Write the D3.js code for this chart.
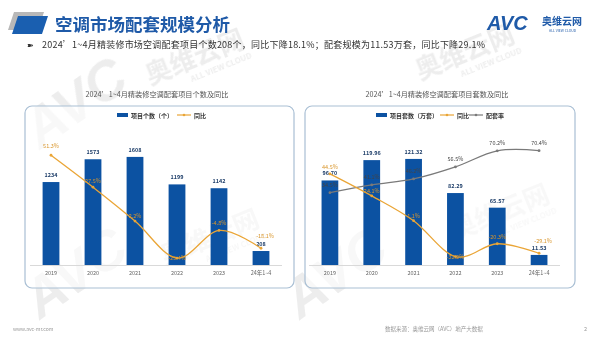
<!DOCTYPE html>
<html><head><meta charset="utf-8">
<script src="https://cdn.jsdelivr.net/npm/d3@7"></script>
<style>body{margin:0;background:#fff;}svg{display:block;font-family:"Noto Sans CJK SC","Noto Sans",sans-serif;}</style>
</head><body><svg id="c" width="600" height="337"></svg>
<script>
const categories = ["2019","2020","2021","2022","2023","24年1~4"];
const projectCount = [1234,1573,1608,1199,1142,208];
const projectCountYoY = [51.3,27.5,2.2,-25.4,-4.8,-18.1];
const setCount = [96.70,119.96,121.32,82.29,65.57,11.53];
const setCountYoY = [44.5,24.1,1.1,-32.2,-20.3,-29.1];
const matchRate = [34.5,41.1,46.2,56.5,70.2,70.4];

const BLUE="#0c52a2", ORANGE="#eaa536", GRAY="#7a7a7a";
const svg=d3.select("#c");

// watermarks
const wm=svg.append("g").attr("fill","#e4e4e4").attr("opacity",0.65);
[[150,85,-22],[420,80,-22],[165,265,-22],[455,240,-22]].forEach(([x,y,r])=>{
  const g=wm.append("g").attr("transform",`translate(${x},${y}) rotate(${r})`);
  g.append("text").attr("font-size",26).attr("font-weight","bold").text("奥维云网");
  g.append("text").attr("y",13).attr("x",40).attr("font-size",8).attr("font-weight","bold").text("ALL VIEW CLOUD");
});
[[40,320,-35],[300,320,-35],[40,150,-35]].forEach(([x,y,r])=>{
  wm.append("text").attr("transform",`translate(${x},${y}) rotate(${r})`).attr("font-size",55).attr("font-weight","bold").attr("font-style","italic").attr("font-family","Liberation Sans").text("AVC");
});

// header
svg.append("path").attr("d","M14,12 L44,12 L38,30 L8,30 Z").attr("fill","#b8b8b8");
svg.append("path").attr("d","M18,16 L48,16 L42,34 L12,34 Z").attr("fill","#1a5fb0");
svg.append("text").attr("x",55).attr("y",31).attr("font-size",17.5).attr("font-weight","bold").attr("fill","#1f5aa8").text("空调市场配套规模分析");
svg.append("text").attr("x",487).attr("y",30).attr("font-size",20).attr("font-weight","bold").attr("font-style","italic").attr("font-family","Liberation Sans").attr("fill","#1f5aa8").text("AVC");
svg.append("text").attr("x",542).attr("y",25).attr("font-size",10).attr("font-weight","bold").attr("fill","#1f5aa8").text("奥维云网");
svg.append("text").attr("x",549).attr("y",32).attr("font-size",3.5).attr("fill","#1f5aa8").text("ALL VIEW CLOUD");
svg.append("text").attr("x",27).attr("y",48).attr("font-size",8).attr("fill","#333").text("➽");
svg.append("text").attr("x",42).attr("y",48).attr("font-size",9).attr("fill","#333").attr("textLength",443)
  .text("2024’1~4月精装修市场空调配套项目个数208个，同比下降18.1%；配套规模为11.53万套，同比下降29.1%");

// footer
svg.append("text").attr("x",13).attr("y",331).attr("font-size",5).attr("fill","#999").text("www.avc-mr.com");
svg.append("text").attr("x",385).attr("y",331).attr("font-size",5.5).attr("fill","#999").text("数据来源：奥维云网（AVC）地产大数据");
svg.append("text").attr("x",584).attr("y",331).attr("font-size",5.5).attr("fill","#999").text("2");

function panel(x0,x1,title,tx){
  svg.append("rect").attr("x",x0).attr("y",106).attr("width",x1-x0).attr("height",182).attr("rx",7)
    .attr("fill","#fff").attr("fill-opacity",0.6).attr("stroke","#a9bfd4").attr("stroke-width",1.2);
  svg.append("text").attr("x",tx).attr("y",97).attr("text-anchor","middle").attr("font-size",7.2).attr("fill","#555").text(title);
}
panel(25,294,"2024’1~4月精装修空调配套项目个数及同比",157);
panel(305,575,"2024’1~4月精装修空调配套项目套数及同比",437);

function legendBlue(x,label){
  svg.append("rect").attr("x",x).attr("y",113).attr("width",11).attr("height",4).attr("fill",BLUE);
  svg.append("text").attr("x",x+14).attr("y",117.5).attr("font-size",6).attr("font-weight","bold").attr("fill","#333").text(label);
}
function legendLine(x,color,label){
  svg.append("line").attr("x1",x).attr("x2",x+14).attr("y1",115).attr("y2",115).attr("stroke",color).attr("stroke-width",1.2);
  svg.append("circle").attr("cx",x+7).attr("cy",115).attr("r",1.3).attr("fill",color);
  svg.append("text").attr("x",x+17).attr("y",117.5).attr("font-size",6).attr("font-weight","bold").attr("fill","#333").text(label);
}
legendBlue(117,"项目个数（个）"); legendLine(177,ORANGE,"同比");
legendBlue(376,"项目套数（万套）"); legendLine(440,ORANGE,"同比"); legendLine(469,GRAY,"配套率");

const line=(x,y)=>d3.line().x((d,i)=>x(categories[i])+x.bandwidth()/2).y(d=>y(d)).curve(d3.curveCardinal.tension(0));

function chart(opts){
  const x=d3.scaleBand().domain(categories).range(opts.xr).paddingInner(0.6).paddingOuter(0.3);
  const y=d3.scaleLinear().domain(opts.ydom).range([265,opts.ytop]);
  const g=svg.append("g");
  g.append("line").attr("x1",opts.xr[0]).attr("x2",opts.xr[1]).attr("y1",265.5).attr("y2",265.5).attr("stroke","#d9d9d9");
  const ax=g.append("g").attr("transform","translate(0,266)").call(d3.axisBottom(x).tickSize(0).tickPadding(5));
  ax.select(".domain").remove();
  ax.selectAll("text").attr("font-size",5.5).attr("fill","#666").attr("font-family","Noto Sans CJK SC");
  g.selectAll(".bar").data(opts.bars).join("rect").attr("x",(d,i)=>x(categories[i])).attr("width",x.bandwidth())
    .attr("y",d=>y(d)).attr("height",d=>265-y(d)).attr("fill",BLUE);
  g.selectAll(".bl").data(opts.bars).join("text").attr("x",(d,i)=>x(categories[i])+x.bandwidth()/2).attr("y",d=>y(d)-5)
    .attr("text-anchor","middle").attr("font-size",5.5).attr("font-weight","bold").attr("fill","#1f3f6a").text(d=>opts.fmt(d));
  opts.lines.forEach(L=>{
    const yl=d3.scaleLinear().domain(L.dom).range(L.rng);
    g.append("path").datum(L.data).attr("d",line(x,yl)).attr("fill","none").attr("stroke",L.color).attr("stroke-width",1.3);
    g.selectAll(null).data(L.data).join("circle").attr("cx",(d,i)=>x(categories[i])+x.bandwidth()/2).attr("cy",d=>yl(d))
      .attr("r",1.4).attr("fill",L.color);
    g.selectAll(null).data(L.data).join("text").attr("x",(d,i)=>x(categories[i])+x.bandwidth()/2+(L.dx?L.dx[i]:0))
      .attr("y",(d,i)=>yl(d)+(L.dy[i])).attr("text-anchor","middle").attr("font-size",5.5).attr("fill",L.tcolor).text(d=>d.toFixed(1)+"%");
  });
}
chart({xr:[30,282],ydom:[0,1800],ytop:144,bars:projectCount,fmt:d=>d,
  lines:[{data:projectCountYoY,dom:[-30,60],rng:[264.2,143.6],color:ORANGE,tcolor:"#d9962c",dy:[-7,-4,-3,2,-5,-10],dx:[0,0,0,0,0,4]}]});
chart({xr:[309,560],ydom:[0,140],ytop:142.6,bars:setCount,fmt:d=>d.toFixed(2),
  lines:[{data:matchRate,dom:[0,80],rng:[233,139.4],color:GRAY,tcolor:"#444",dy:[-6,-6,-6,-6,-6,-6]},
         {data:setCountYoY,dom:[-40,70],rng:[265,146.4],color:ORANGE,tcolor:"#d9962c",dy:[-5,-3,-3,2,-5,-10],dx:[0,0,0,0,0,4]}]});
</script></body></html>
